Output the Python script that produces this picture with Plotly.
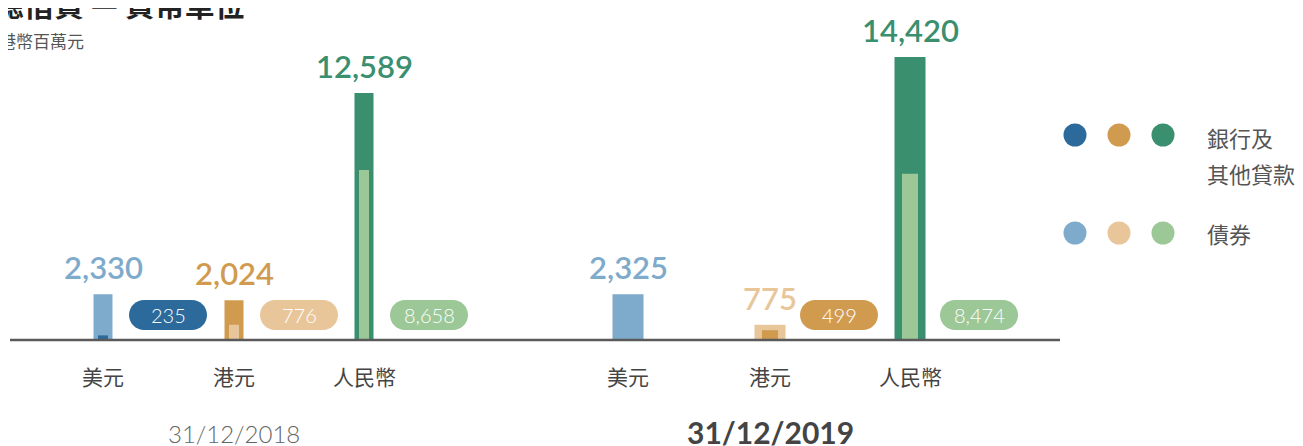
import plotly.graph_objects as go

# values (HK$ million)
currencies = ["美元", "港元", "人民幣"]
dates = ["31/12/2018", "31/12/2019"]
bank_loans_2018 = [235, 1248, 3931]
bonds_2018 = [2095, 776, 8658]
bank_loans_2019 = [0, 499, 5946]
bonds_2019 = [2325, 276, 8474]
legend_labels = [["銀行及", "其他貸款"], ["債券"]]
title = "總借貸 — 貨幣單位"
subtitle = "港幣百萬元"

LOAN_COLORS = ["#2b6a9b", "#d19b4f", "#3a8f6f"]
BOND_COLORS = ["#7eaacb", "#e9c699", "#9cc797"]

# which component is drawn as the narrow inner bar (and in the pill)
INNER_IS_BOND = [[False, True, True], [False, False, True]]

# layout: x axis runs in screen pixels, y axis in HK$ million
PX_PER_UNIT = 0.01963
OFFSET = 8  # page body margin
BASE_PX = 340 - OFFSET
H = 446
GROUP_X = [[103, 234, 364], [628, 770, 910]]
BAR_W = [19, 31]
INNER_W = [10, 16]
PILL_DX = [65, 69]
ACTIVE = 1

FONT = "Lato, 'Noto Sans CJK TC', sans-serif"
CJK = "'Noto Sans CJK TC', 'Noto Sans', sans-serif"


def pill_path(cy=25, w=78, h=30):
    r = h / 2
    k = r * 0.5523
    a, b = -w / 2 + r, w / 2 - r
    t, u = cy + r, cy - r
    return (
        f"M {a},{u} L {b},{u} C {b + k},{u} {b + r},{cy - k} {b + r},{cy} "
        f"C {b + r},{cy + k} {b + k},{t} {b},{t} L {a},{t} "
        f"C {a - k},{t} {a - r},{cy + k} {a - r},{cy} "
        f"C {a - r},{cy - k} {a - k},{u} {a},{u} Z"
    )


fig = go.Figure()
annotations = []
shapes = []

series = [(bank_loans_2018, bonds_2018), (bank_loans_2019, bonds_2019)]
for g, (loans, bonds) in enumerate(series):
    xs = GROUP_X[g]
    totals = [l + b for l, b in zip(loans, bonds)]
    outer_col, inner_val, inner_col = [], [], []
    for i in range(len(currencies)):
        if INNER_IS_BOND[g][i]:
            outer_col.append(LOAN_COLORS[i])
            inner_val.append(bonds[i])
            inner_col.append(BOND_COLORS[i])
        else:
            outer_col.append(BOND_COLORS[i])
            inner_val.append(loans[i])
            inner_col.append(LOAN_COLORS[i])

    fig.add_trace(go.Bar(
        x=xs, y=totals, width=[BAR_W[g]] * 3, marker_color=outer_col,
        marker_line_width=0, customdata=currencies,
        hovertemplate="%{customdata}<br>%{y:,}<extra>" + dates[g] + "</extra>",
    ))
    fig.add_trace(go.Bar(
        x=xs, y=inner_val, width=[INNER_W[g]] * 3, marker_color=inner_col,
        marker_line_width=0, customdata=currencies,
        hovertemplate="%{customdata}<br>%{y:,}<extra>" + dates[g] + "</extra>",
    ))

    for i, cur in enumerate(currencies):
        # total above bar
        annotations.append(dict(
            x=xs[i], y=totals[i], text=f"{totals[i]:,}", showarrow=False,
            yanchor="middle", yshift=27,
            font=dict(family=FONT, size=31, color=outer_col[i], weight=600),
        ))
        # currency label
        annotations.append(dict(
            x=xs[i], y=0, text=cur, showarrow=False, yanchor="middle", yshift=-36,
            font=dict(family=CJK, size=21, color="#444444"),
        ))
        # pill with the inner component
        if inner_val[i] > 0:
            px = xs[i] + PILL_DX[g]
            shapes.append(dict(
                type="path", xref="x", yref="y", xsizemode="pixel", ysizemode="pixel",
                xanchor=px, yanchor=0, path=pill_path(), fillcolor=inner_col[i],
                line_width=0, layer="above",
            ))
            annotations.append(dict(
                x=px, y=0, text=f"{inner_val[i]:,}", showarrow=False,
                yanchor="middle", yshift=25,
                font=dict(family=FONT, size=20, color="white", weight=300),
            ))

    # date label under the group
    active = g == ACTIVE
    annotations.append(dict(
        x=xs[1], y=0, text=dates[g], showarrow=False, yanchor="middle",
        yshift=-92 if active else -93,
        font=dict(family=FONT, size=30 if active else 24,
                  color="#444444" if active else "#666666",
                  weight="bold" if active else 300),
    ))

# baseline
shapes.append(dict(type="line", xref="x", yref="y", x0=10, x1=1060, y0=0, y1=0,
                   line=dict(color="#5a5a5a", width=2.5), layer="above"))

# legend dots + labels
LEG_X = [1075, 1119, 1163]
LEG_DY = [205, 107]
LEG_TEXT_DY = [[203, 167], [107]]
for row, cols in enumerate([LOAN_COLORS, BOND_COLORS]):
    for cx, c in zip(LEG_X, cols):
        shapes.append(dict(
            type="circle", xref="x", yref="y", xsizemode="pixel", ysizemode="pixel",
            xanchor=cx, yanchor=0, x0=-11.5, x1=11.5,
            y0=LEG_DY[row] - 11.5, y1=LEG_DY[row] + 11.5,
            fillcolor=c, line_width=0,
        ))
    for line, dy in zip(legend_labels[row], LEG_TEXT_DY[row]):
        annotations.append(dict(
            x=1205, y=0, text=line, showarrow=False, xanchor="left",
            yanchor="middle", yshift=dy,
            font=dict(family=CJK, size=22, color="#555555"),
        ))

# title + subtitle (partly cut off at the top-left, as in the original)
annotations.append(dict(
    xref="paper", yref="paper", x=0, y=1, text=f"<b>{title}</b>", showarrow=False,
    xanchor="left", yanchor="middle", xshift=-16, yshift=5,
    font=dict(family=CJK, size=30, color="#222222"),
))
annotations.append(dict(
    xref="paper", yref="paper", x=0, y=1, text=subtitle, showarrow=False,
    xanchor="left", yanchor="middle", xshift=-11, yshift=-32,
    font=dict(family=CJK, size=17, color="#555555"),
))

fig.update_layout(
    width=1303, height=H,
    margin=dict(l=0, r=0, t=0, b=0),
    paper_bgcolor="white", plot_bgcolor="white",
    barmode="overlay", showlegend=False,
    xaxis=dict(range=[OFFSET, 1303 + OFFSET], visible=False, fixedrange=True),
    yaxis=dict(range=[-(H - BASE_PX) / PX_PER_UNIT, BASE_PX / PX_PER_UNIT],
               visible=False, fixedrange=True),
    annotations=annotations, shapes=shapes,
)

fig.write_html("out.html")
